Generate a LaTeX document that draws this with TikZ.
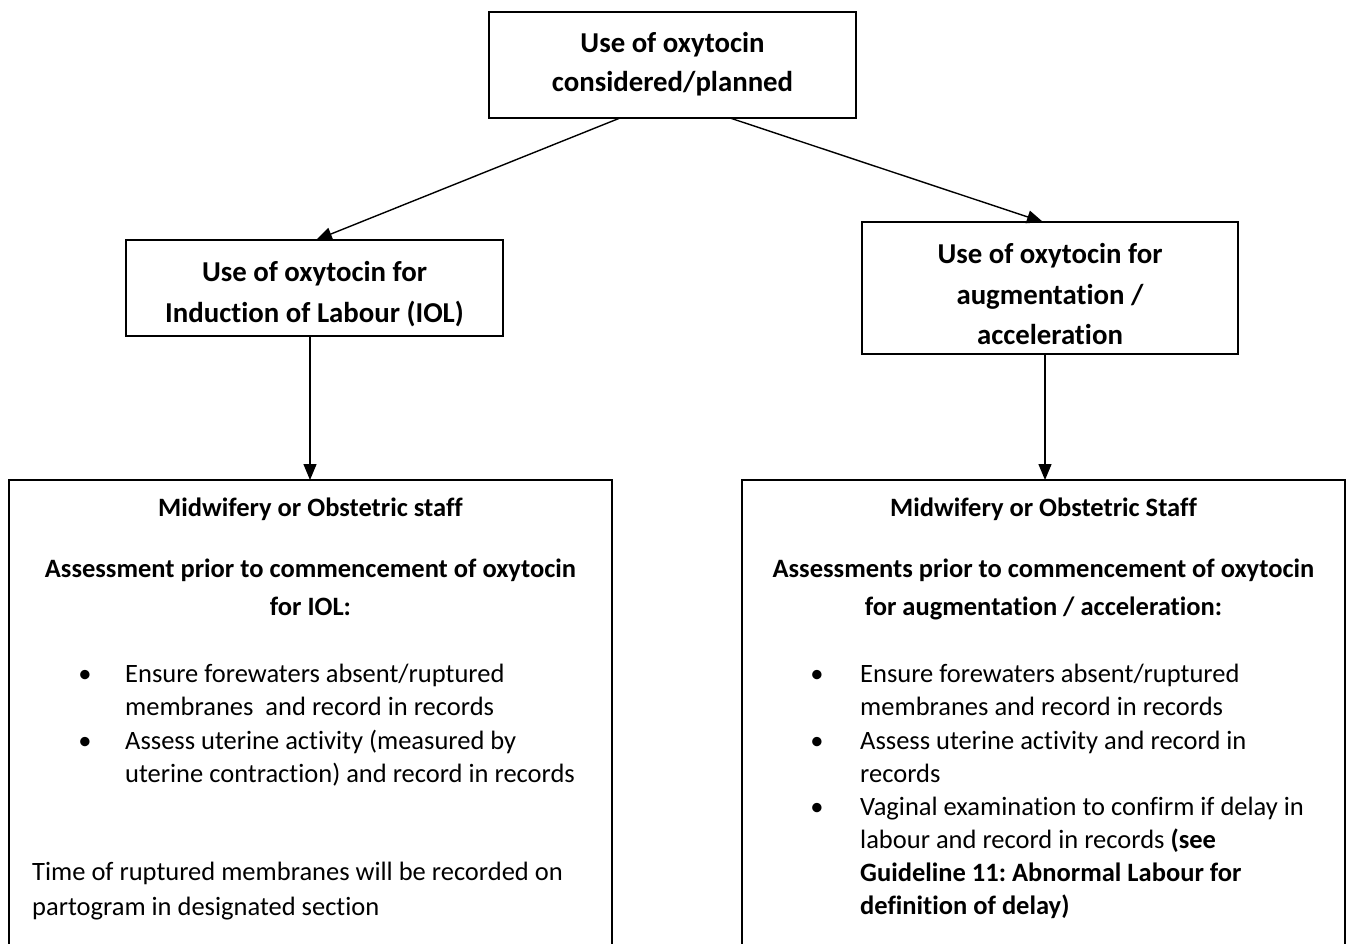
\documentclass[tikz,border=0pt]{standalone}
\usepackage{fontspec}
\setmainfont{Carlito}[Ligatures=NoCommon]
\usetikzlibrary{arrows.meta}
\begin{document}
\frenchspacing
\begin{tikzpicture}[x=1pt,y=-1pt,
  box/.style={draw,line width=1.5pt,inner sep=0pt},
  arr/.style={line width=1.4pt,-{Triangle[length=16pt,width=13pt]}},
  hd/.style={anchor=base,inner sep=0pt,font=\fontsize{28.8}{34}\selectfont\bfseries},
  sh/.style={anchor=base,inner sep=0pt,font=\fontsize{26.5}{32}\selectfont\bfseries},
  tx/.style={anchor=base west,inner sep=0pt,font=\fontsize{26.5}{32}\selectfont},
  tb/.style={tx,font=\fontsize{26.5}{32}\selectfont\bfseries},
  bl/.style={anchor=base,inner sep=0pt,font=\fontsize{26.5}{32}\selectfont}]
\useasboundingbox (0,0) rectangle (1349,943);
\fill[white] (0,0) rectangle (1349,943);
% boxes
\draw[box] (489,12) rectangle (856,118);
\node[inner sep=0] (top) at (672.5,65) [minimum width=367pt,minimum height=106pt] {};
\draw[box] (126,240) rectangle (503,336);
\node[inner sep=0] (iol) at (314.5,288) [minimum width=377pt,minimum height=96pt] {};
\draw[box] (862,222) rectangle (1238,354);
\node[inner sep=0] (aug) at (1050,288) [minimum width=376pt,minimum height=132pt] {};
\draw[box] (9,480) rectangle (612,990);
\node[inner sep=0] (lb) at (310.5,735) [minimum width=603pt,minimum height=510pt] {};
\draw[box] (742,480) rectangle (1345,990);
\node[inner sep=0] (rb) at (1043.5,735) [minimum width=603pt,minimum height=510pt] {};
% arrows
\coordinate (t1) at (620,118);
\coordinate (t2) at (730,118);
\coordinate (i1) at (316,240);
\coordinate (a1) at (1043,222);
\draw[arr] (t1) -- (i1);
\draw[arr] (t2) -- (a1);
\coordinate (i2) at (310,336);
\coordinate (i3) at (310,480);
\draw[arr] (i2) -- (i3);
\coordinate (a2) at (1045,354);
\coordinate (a3) at (1045,480);
\draw[arr] (a2) -- (a3);
% text top
\node[hd] (t_l1) at (672.5,52) {Use of oxytocin};
\node[hd] (t_l2) at (672.5,91) {considered/planned};
\node[hd] (i_l1) at (314.5,281) {Use of oxytocin for};
\node[hd] (i_l2) at (314.5,322) {Induction of Labour (IOL)};
\node[hd] (a_l1) at (1050,263) {Use of oxytocin for};
\node[hd] (a_l2) at (1050,304) {augmentation /};
\node[hd] (a_l3) at (1050,344) {acceleration};
% left bottom
\node[sh] (l_h1) at (310.5,516) {Midwifery or Obstetric staff};
\node[sh] (l_h2) at (310.5,577) {Assessment prior to commencement of oxytocin};
\node[sh] (l_h3) at (310.5,615) {for IOL:};
\node[bl] (l_b1) at (85,682) {\textbullet};
\node[tx] (l_t1) at (125,682) {Ensure forewaters absent/ruptured};
\node[tx] (l_t2) at (125,715) {membranes\ \ and record in records};
\node[bl] (l_b2) at (85,749) {\textbullet};
\node[tx] (l_t3) at (125,749) {Assess uterine activity (measured by};
\node[tx] (l_t4) at (125,782) {uterine contraction) and record in records};
\node[tx] (l_n1) at (32,880) {Time of ruptured membranes will be recorded on};
\node[tx] (l_n2) at (32,915) {partogram in designated section};
% right bottom
\node[sh] (r_h1) at (1043.5,516) {Midwifery or Obstetric Staff};
\node[sh] (r_h2) at (1043.5,577) {Assessments prior to commencement of oxytocin};
\node[sh] (r_h3) at (1043.5,615) {for augmentation / acceleration:};
\node[bl] (r_b1) at (817,682) {\textbullet};
\node[tx] (r_t1) at (860,682) {Ensure forewaters absent/ruptured};
\node[tx] (r_t2) at (860,715) {membranes and record in records};
\node[bl] (r_b2) at (817,749) {\textbullet};
\node[tx] (r_t3) at (860,749) {Assess uterine activity and record in};
\node[tx] (r_t4) at (860,782) {records};
\node[bl] (r_b3) at (817,815) {\textbullet};
\node[tx] (r_t5) at (860,815) {Vaginal examination to confirm if delay in};
\node[tx] (r_t6) at (860,848) {labour and record in records \textbf{(see}};
\node[tb] (r_t7) at (860,881) {Guideline 11: Abnormal Labour for};
\node[tb] (r_t8) at (860,914) {definition of delay)};
\end{tikzpicture}
\end{document}
